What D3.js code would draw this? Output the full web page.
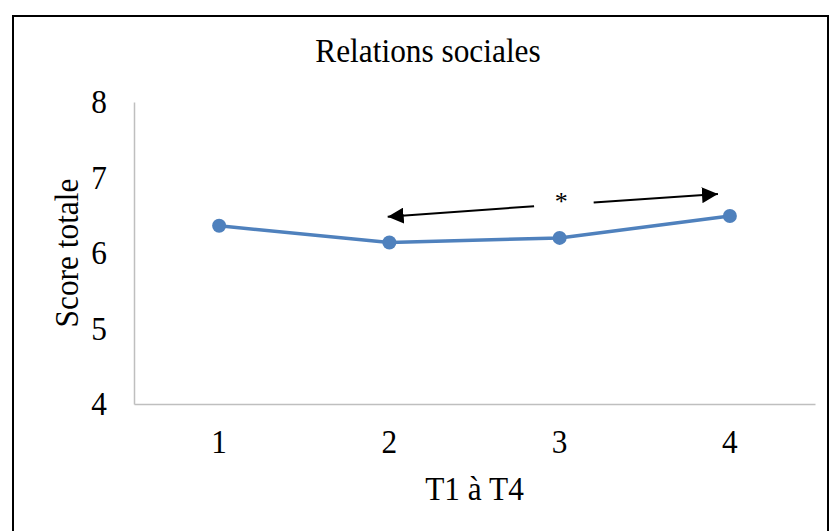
<!DOCTYPE html>
<html><head><meta charset="utf-8">
<script src="https://cdn.jsdelivr.net/npm/d3@7"></script>
<style>body{margin:0;background:#fff}svg{display:block}text{font-family:"Liberation Serif","Times New Roman",serif;fill:#000}</style>
</head><body><svg id="c" width="830" height="531"></svg>
<script>
const categories = ["1","2","3","4"];
const values = [6.36, 6.14, 6.20, 6.49];
const yTicks = [4,5,6,7,8];
const title = "Relations sociales";
const xTitle = "T1 à T4";
const yTitle = "Score totale";
// annotation arrows in data coordinates (category index, value)
const arrows = [
  {from:[2.85, 6.62], to:[1.99, 6.48]},
  {from:[3.20, 6.67], to:[3.93, 6.78]}
];
const star = {label:"*", at:[3.01, 6.73]};

const FS = 33, SX = 0.95;
const svg = d3.select("#c");
const pL=134,pR=815,pT=102,pB=404;

svg.append("rect").attr("x",13).attr("y",16).attr("width",815).attr("height",540)
  .attr("fill","#fff").attr("stroke","#000").attr("stroke-width",2);

const x = d3.scaleBand().domain(categories).range([pL,pR]);
const xi = d3.scaleLinear().domain([1,4]).range([x("1")+x.bandwidth()/2, x("4")+x.bandwidth()/2]);
const y = d3.scaleLinear().domain([4,8]).range([pB,pT]);

// axes
const ya = svg.append("g").attr("transform",`translate(${pL},0)`)
  .call(d3.axisLeft(y).tickValues(yTicks).tickSize(0).tickPadding(27).tickFormat(d3.format("d")));
ya.select(".domain").attr("stroke","#BFBFBF").attr("stroke-width",1.5);
ya.selectAll(".tick text").attr("font-size",FS).attr("font-family","Liberation Serif")
  .each(function(){ const t=d3.select(this); const xv=+t.attr("x"); t.attr("x",0).attr("transform",`translate(${xv},0) scale(${SX},1)`); });

const xa = svg.append("g").attr("transform",`translate(0,${pB})`)
  .call(d3.axisBottom(x).tickSize(0).tickPadding(26));
xa.select(".domain").attr("stroke","#BFBFBF").attr("stroke-width",1.5);
xa.selectAll(".tick text").attr("font-size",FS).attr("font-family","Liberation Serif")
  .each(function(){ const t=d3.select(this); const yv=+t.attr("y"); t.attr("y",0).attr("transform",`translate(0,${yv}) scale(${SX},1)`); });

// titles
svg.append("text").attr("transform",`translate(428,62) scale(${SX},1)`).attr("text-anchor","middle")
  .attr("font-size",FS).text(title);
svg.append("text").attr("transform",`translate(${(pL+pR)/2},500) scale(${SX},1)`).attr("text-anchor","middle")
  .attr("font-size",FS).text(xTitle);
svg.append("text").attr("transform",`translate(78,${(pT+pB)/2}) rotate(-90) scale(${SX},1)`)
  .attr("text-anchor","middle").attr("font-size",FS).text(yTitle);

// line
const pts = categories.map((c,i)=>[x(c)+x.bandwidth()/2, y(values[i])]);
svg.append("path").attr("d",d3.line()(pts)).attr("fill","none")
  .attr("stroke","#4F81BD").attr("stroke-width",3.5).attr("stroke-linejoin","round");
svg.selectAll("circle.pt").data(pts).join("circle").attr("class","pt")
  .attr("cx",d=>d[0]).attr("cy",d=>d[1]).attr("r",7).attr("fill","#4F81BD");

// arrows
svg.append("defs").append("marker").attr("id","ah").attr("viewBox","0 0 10 10")
  .attr("refX",10).attr("refY",5).attr("markerWidth",16).attr("markerHeight",16)
  .attr("markerUnits","userSpaceOnUse").attr("orient","auto")
  .append("path").attr("d","M0,0L10,5L0,10Z").attr("fill","#000");
arrows.forEach(a=>{
  svg.append("line").attr("x1",xi(a.from[0])).attr("y1",y(a.from[1]))
    .attr("x2",xi(a.to[0])).attr("y2",y(a.to[1]))
    .attr("stroke","#000").attr("stroke-width",2).attr("marker-end","url(#ah)");
});
svg.append("text").attr("x",xi(star.at[0])).attr("y",y(star.at[1])+12)
  .attr("text-anchor","middle").attr("font-size",26).attr("font-family","Liberation Sans").text(star.label);
</script></body></html>
